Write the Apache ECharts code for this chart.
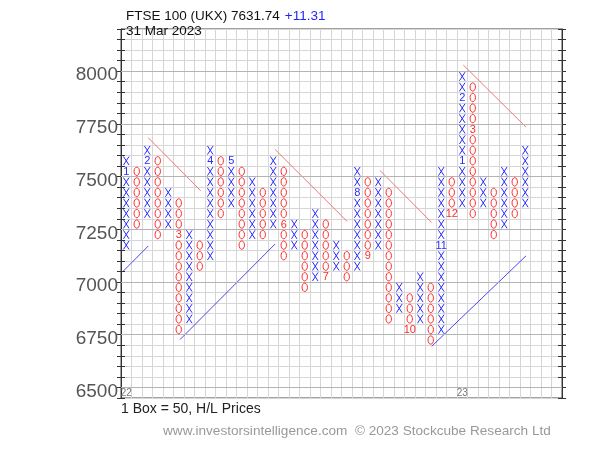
<!DOCTYPE html>
<html><head><meta charset="utf-8">
<script src="https://cdn.jsdelivr.net/npm/echarts@6/dist/echarts.min.js"></script>
<style>html,body{margin:0;padding:0;background:#fff}#c{width:600px;height:450px}</style>
</head><body><div id="c"></div>
<script>
// Point & Figure columns (box size 50). Each column: type, lowest box, highest box (box lower bounds)
const colTypes = ['X','O','X','O','X','O','X','O','X','O','X','O','X','O','X','O','X','O','X','O','X','O','X','O','X','O','X','O','X','O','X','O','X','O','X','O','X','O','X'];
const colLow  = [7150,7250,7300,7200,7250,6750,6800,7050,7100,7300,7350,7150,7200,7200,7250,7100,7150,6950,7000,7000,7050,7000,7050,7100,7150,6800,6850,6750,6800,6700,6750,7300,7350,7300,7350,7200,7250,7300,7350];
const colHigh = [7550,7500,7600,7550,7400,7350,7200,7150,7600,7550,7550,7500,7450,7400,7550,7500,7250,7200,7300,7250,7150,7100,7500,7450,7450,7400,6950,6900,7000,6950,7500,7450,7950,7900,7450,7400,7500,7450,7600];
// Month markers (column, box, label)
const monthCol   = [0,2,5,8,10,15,19,22,23,27,30,31,32,32,33];
const monthBox   = [7500,7550,7200,7550,7550,7250,7000,7400,7100,6750,7150,7300,7550,7850,7700];
const monthLabel = ['1','2','3','4','5','6','7','8','9','10','11','12','1','2','3'];
const yearCol = [0,32];
const yearLabel = ['22','23'];
// Axis
const yMajor = [6500,6750,7000,7250,7500,7750,8000];
// Trend lines [column position, price]
const redLines = [
  [[2.6,7684],[7.59,7433]],
  [[14.67,7629],[21.55,7287]],
  [[24.67,7529],[29.59,7282]],
  [[32.6,8029],[38.57,7735]]
];
const blueLines = [
  [[0.22,7052],[2.6,7171]],
  [[5.62,6727],[14.67,7180]],
  [[29.59,6695],[38.57,7124]]
];
const BOX = 50;
const NCOLS = 42;

const boxes = [];
colTypes.forEach((t, c) => {
  for (let v = colLow[c]; v <= colHigh[c]; v += BOX) {
    const mi = monthCol.findIndex((mc, i) => mc === c && monthBox[i] === v);
    boxes.push({col: c, v: v, t: t, label: mi >= 0 ? monthLabel[mi] : null});
  }
});

const XC = '#2a2aff', OC = '#ff2a2a';
const FONT = '"Liberation Sans", Arial, sans-serif';
const chart = echarts.init(document.getElementById('c'));
const yBase = {type: 'value', min: 6450, max: 8200, interval: 50, scale: true};
const series = [];
series.push({
  type: 'custom', xAxisIndex: 0, yAxisIndex: 0, silent: true,
  data: boxes.map(b => [b.col + 0.5, b.v + BOX / 2]),
  renderItem: function (params, api) {
    const b = boxes[params.dataIndex];
    const p = api.coord([api.value(0), api.value(1)]);
    const col = b.t === 'X' ? XC : OC;
    if (b.label) {
      return {type: 'text', style: {text: b.label, x: p[0], y: p[1] + 0.5, align: 'center', verticalAlign: 'middle',
        fill: col, font: '11px ' + FONT}};
    }
    if (b.t === 'X') {
      return {type: 'group', children: [
        {type: 'line', shape: {x1: p[0] - 2.8, y1: p[1] - 4.3, x2: p[0] + 2.8, y2: p[1] + 4.3}, style: {stroke: col, lineWidth: 1}},
        {type: 'line', shape: {x1: p[0] + 2.8, y1: p[1] - 4.3, x2: p[0] - 2.8, y2: p[1] + 4.3}, style: {stroke: col, lineWidth: 1}}
      ]};
    }
    return {type: 'ellipse', shape: {cx: p[0], cy: p[1], rx: 2.7, ry: 4.2}, style: {fill: null, stroke: col, lineWidth: 1}};
  },
  markLine: {
    silent: true, symbol: 'none', label: {show: false},
    lineStyle: {color: '#b4b4b4', width: 1, type: 'solid'},
    data: yMajor.map(v => ({yAxis: v}))
  },
  z: 5
});
series.push({
  type: 'custom', xAxisIndex: 0, yAxisIndex: 0, silent: true,
  data: yearCol.map((c, i) => [c + 0.5, 6475]),
  renderItem: function (params, api) {
    const p = api.coord([api.value(0), api.value(1)]);
    return {type: 'text', style: {text: yearLabel[params.dataIndex], x: p[0], y: p[1] + 1, align: 'center', verticalAlign: 'middle',
      fill: '#777', font: '10px ' + FONT}};
  }, z: 4
});
redLines.forEach(l => series.push({type: 'line', data: l, symbol: 'none', silent: true, lineStyle: {color: '#f07878', width: 1}, z: 3}));
blueLines.forEach(l => series.push({type: 'line', data: l, symbol: 'none', silent: true, lineStyle: {color: '#4848f0', width: 1}, z: 3}));

chart.setOption({
  animation: false,
  title: {
    left: 121, top: 2, itemGap: 0,
    text: '{a|FTSE 100 (UKX) 7631.74} {b|+11.31}\n{a|31 Mar 2023}',
    textStyle: {fontWeight: 'normal', rich: {
      a: {fontFamily: FONT, fontSize: 13.5, fontWeight: 'normal', color: '#111', lineHeight: 12},
      b: {fontFamily: FONT, fontSize: 13.5, fontWeight: 'normal', color: '#1f1fff', lineHeight: 12}
    }}
  },
  grid: {left: 121, right: 38, top: 29, bottom: 52, show: true, borderColor: '#444', borderWidth: 1, backgroundColor: '#fff'},
  xAxis: {type: 'value', min: 0, max: NCOLS, interval: 1, axisLine: {show: false}, axisTick: {show: false}, axisLabel: {show: false},
    splitLine: {show: true, lineStyle: {color: '#d6d6d6', width: 1}}},
  yAxis: [
    Object.assign({}, yBase, {position: 'left', axisLine: {show: true, lineStyle: {color: '#333'}},
      axisTick: {show: true, length: 4, lineStyle: {color: '#333'}},
      axisLabel: {margin: 3, fontSize: 19, color: '#555', fontFamily: FONT, verticalAlign: 'top', lineHeight: 8,
        formatter: v => (yMajor.indexOf(v) >= 0 ? String(v) : '')},
      splitLine: {show: true, lineStyle: {color: '#d6d6d6', width: 1}}}),
    Object.assign({}, yBase, {position: 'left', axisLine: {show: false}, axisTick: {show: true, inside: true, length: 4, lineStyle: {color: '#333'}},
      axisLabel: {show: false}, splitLine: {show: false}}),
    Object.assign({}, yBase, {position: 'right', axisLine: {show: true, lineStyle: {color: '#333'}}, axisTick: {show: true, length: 4, lineStyle: {color: '#333'}},
      axisLabel: {show: false}, splitLine: {show: false}}),
    Object.assign({}, yBase, {position: 'right', axisLine: {show: false}, axisTick: {show: true, inside: true, length: 4, lineStyle: {color: '#333'}},
      axisLabel: {show: false}, splitLine: {show: false}})
  ],
  graphic: [
    {type: 'text', left: 121, top: 402, style: {text: '1 Box = 50, H/L Prices', font: '14px ' + FONT, fill: '#222'}},
    {type: 'text', left: 163, top: 424, style: {text: 'www.investorsintelligence.com  \u00a9 2023 Stockcube Research Ltd', font: '13.6px ' + FONT, fill: '#999'}}
  ],
  series: series
});
</script></body></html>
